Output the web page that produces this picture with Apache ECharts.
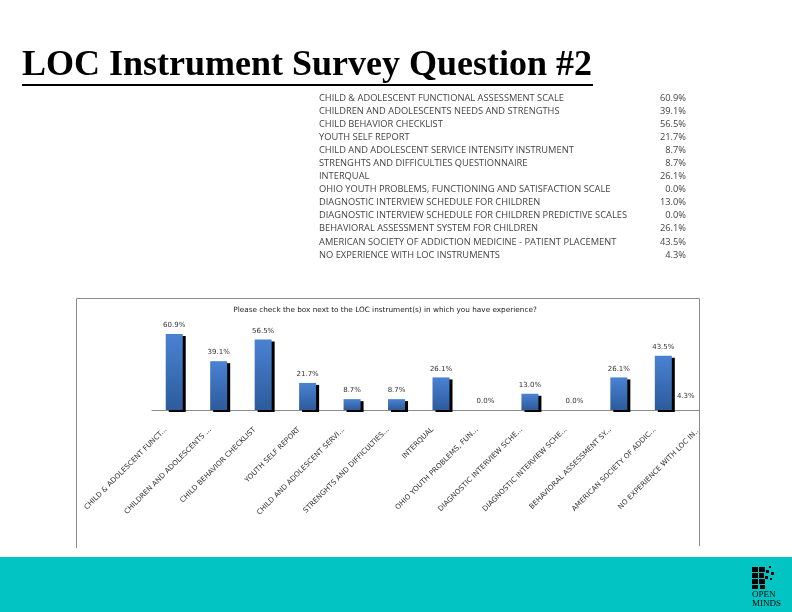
<!DOCTYPE html>
<html>
<head>
<meta charset="utf-8">
<script src="https://cdn.jsdelivr.net/npm/echarts@6/dist/echarts.min.js"></script>
<style>html,body{margin:0;padding:0;background:#fff;}#c{width:792px;height:612px;}</style>
</head>
<body>
<div id="c"></div>
<script>
var pageTitle = "LOC Instrument Survey Question #2";
var chartTitle = "Please check the box next to the LOC instrument(s) in which you have experience?";
var fullNames = [
  "CHILD & ADOLESCENT FUNCTIONAL ASSESSMENT SCALE",
  "CHILDREN AND ADOLESCENTS NEEDS AND STRENGTHS",
  "CHILD BEHAVIOR CHECKLIST",
  "YOUTH SELF REPORT",
  "CHILD AND ADOLESCENT SERVICE INTENSITY INSTRUMENT",
  "STRENGHTS AND DIFFICULTIES QUESTIONNAIRE",
  "INTERQUAL",
  "OHIO YOUTH PROBLEMS, FUNCTIONING AND SATISFACTION SCALE",
  "DIAGNOSTIC INTERVIEW SCHEDULE FOR CHILDREN",
  "DIAGNOSTIC INTERVIEW SCHEDULE FOR CHILDREN PREDICTIVE SCALES",
  "BEHAVIORAL ASSESSMENT SYSTEM FOR CHILDREN",
  "AMERICAN SOCIETY OF ADDICTION MEDICINE - PATIENT PLACEMENT",
  "NO EXPERIENCE WITH LOC INSTRUMENTS"
];
var shortNames = [
  "CHILD & ADOLESCENT FUNCT...",
  "CHILDREN AND ADOLESCENTS ...",
  "CHILD BEHAVIOR CHECKLIST",
  "YOUTH SELF REPORT",
  "CHILD AND ADOLESCENT SERVI...",
  "STRENGHTS AND DIFFICULTIES...",
  "INTERQUAL",
  "OHIO YOUTH PROBLEMS, FUN...",
  "DIAGNOSTIC INTERVIEW SCHE...",
  "DIAGNOSTIC INTERVIEW SCHE...",
  "BEHAVIORAL ASSESSMENT SY...",
  "AMERICAN SOCIETY OF ADDIC...",
  "NO EXPERIENCE WITH LOC IN..."
];
var percentValues = [60.9, 39.1, 56.5, 21.7, 8.7, 8.7, 26.1, 0.0, 13.0, 0.0, 26.1, 43.5, 4.3];

var chart = echarts.init(document.getElementById('c'), null, {renderer: 'canvas'});

var graphics = [];
// page title
graphics.push({type: 'text', left: 22, top: 48, z: 10,
  style: {text: pageTitle, font: 'bold 36px "Liberation Serif", "Times New Roman", serif', fill: '#000'}});
graphics.push({type: 'rect', shape: {x: 22, y: 84, width: 571, height: 2}, style: {fill: '#000'}, z: 10});
// table of values
fullNames.forEach(function (n, i) {
  var y = 98 + i * 13.08;
  graphics.push({type: 'text', x: 319, y: y, z: 10,
    style: {text: n, font: '9.3px "Open Sans", sans-serif', fill: '#444', verticalAlign: 'middle', textAlign: 'left'}});
  graphics.push({type: 'text', x: 686, y: y, z: 10,
    style: {text: percentValues[i].toFixed(1) + '%', font: '9.3px "Open Sans", sans-serif', fill: '#444', verticalAlign: 'middle', textAlign: 'right'}});
});
// cover for clipped region at right of chart box
graphics.push({type: 'rect', shape: {x: 700, y: 290, width: 92, height: 265}, style: {fill: '#fff'}, z: 20});
// chart box border
graphics.push({type: 'polyline', shape: {points: [[76.5, 548], [76.5, 298.5], [699.5, 298.5], [699.5, 546]]},
  style: {stroke: '#8c8c8c', lineWidth: 1, fill: null}, z: 21});
// chart title
graphics.push({type: 'text', x: 385, y: 310, z: 21,
  style: {text: chartTitle, font: '7.3px "DejaVu Sans", sans-serif', fill: '#222', textAlign: 'center', verticalAlign: 'middle'}});
// teal footer band
graphics.push({type: 'rect', shape: {x: 0, y: 557, width: 792, height: 55}, style: {fill: '#02C4C2'}, z: 22});
// logo
var logo = [[752,567,6,5],[752,573,6,5],[752,579,6,5],[752,585,6,4],[759,567,6,5],[759,573,5,5],[759,579,6,5],[766,570,3,3],[769,566,2,2],[771,572,3,3],[765,576,3,3],[770,578,2,2],[760,585,5,4]];
logo.forEach(function (r) {
  graphics.push({type: 'rect', shape: {x: r[0], y: r[1], width: r[2], height: r[3]}, style: {fill: '#000'}, z: 23});
});
graphics.push({type: 'text', x: 752, y: 595, z: 23, style: {text: 'OPEN', font: '9px "Liberation Serif", serif', fill: '#000', verticalAlign: 'middle'}});
graphics.push({type: 'text', x: 752, y: 604, z: 23, style: {text: 'MINDS', font: '9px "Liberation Serif", serif', fill: '#000', verticalAlign: 'middle'}});

var barData = percentValues.map(function (v, i) {
  var item = {value: v};
  if (i === percentValues.length - 1) item.label = {offset: [-22, 0]};
  return item;
});

chart.setOption({
  animation: false,
  backgroundColor: '#fff',
  grid: {left: 152, right: 62, top: 322.6, bottom: 202, containLabel: false},
  xAxis: {
    type: 'category',
    data: shortNames,
    axisLine: {show: true, lineStyle: {color: '#8c8c8c', width: 1}},
    axisTick: {show: false},
    axisLabel: {interval: 0, rotate: 45, margin: 10, padding: [0, 12, 0, 0], fontSize: 7.2, color: '#333', fontFamily: '"DejaVu Sans", sans-serif'}
  },
  yAxis: {type: 'value', min: 0, max: 70, show: false, splitLine: {show: false}},
  series: [{
    type: 'bar',
    data: barData,
    barWidth: 17,
    clip: false,
    itemStyle: {
      color: new echarts.graphic.LinearGradient(0, 0, 0, 1, [
        {offset: 0, color: '#4a82d2'}, {offset: 1, color: '#2d5b9c'}
      ]),
      shadowColor: '#000', shadowBlur: 0, shadowOffsetX: 3, shadowOffsetY: 2
    },
    label: {show: true, position: 'top', distance: 5, fontSize: 7, color: '#333',
      fontFamily: '"DejaVu Sans", sans-serif',
      formatter: function (p) { return p.value.toFixed(1) + '%'; }}
  }],
  graphic: graphics
});
</script>
</body>
</html>
